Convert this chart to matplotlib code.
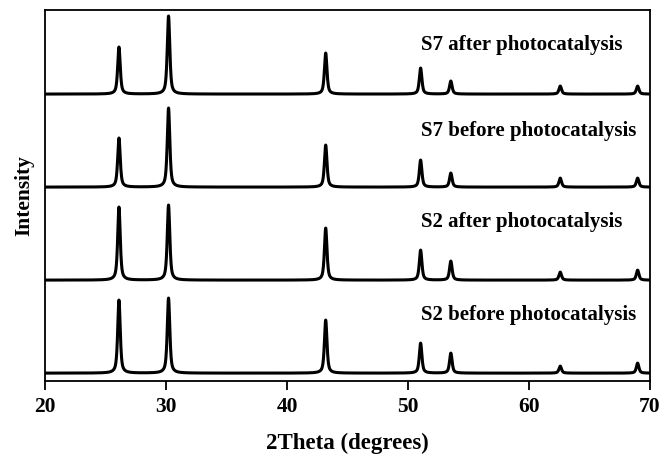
import numpy as np
import matplotlib
matplotlib.use("Agg")
import matplotlib.pyplot as plt

# peak positions (2theta, degrees)
peak_pos = [26.1, 30.2, 43.2, 51.05, 53.55, 62.6, 69.0]

# peak heights (a.u.) per sample
labels = ["S2 before photocatalysis", "S2 after photocatalysis",
          "S7 before photocatalysis", "S7 after photocatalysis"]
heights_s2_before = [73, 75, 53, 30, 20, 7, 10]
heights_s2_after = [73, 75, 52, 30, 19, 8, 10]
heights_s7_before = [49, 79, 42, 27, 14, 9, 9]
heights_s7_after = [47, 78, 41, 26, 13, 8, 8]
offsets = [0, 93, 186, 279]
label_dy = [58, 58, 56, 49]

plt.rcParams['font.family'] = ['Liberation Serif', 'DejaVu Serif']
plt.rcParams['font.weight'] = 'bold'


def pattern(x, heights, fwhm=0.25, eta=0.65):
    y = np.zeros_like(x)
    for p, h in zip(peak_pos, heights):
        g = np.exp(-4 * np.log(2) * ((x - p) / fwhm) ** 2)
        l = 1.0 / (1.0 + 4 * ((x - p) / fwhm) ** 2)
        y += h * (eta * l + (1 - eta) * g)
    return y


x = np.linspace(20, 70, 5001)
fig = plt.figure(figsize=(6.65, 4.57), dpi=100)
ax = fig.add_axes([0.068, 0.166, 0.909, 0.812])

all_heights = [heights_s2_before, heights_s2_after, heights_s7_before, heights_s7_after]
for lab, h, off, dy in zip(labels, all_heights, offsets, label_dy):
    ax.plot(x, pattern(x, h) + off, color='black', lw=2.2)
    ax.text(51.1, off + dy, lab, fontsize=15, fontweight='bold', va='center', ha='left')

ax.set_xlim(20, 70)
ax.set_ylim(-8, 363)
ax.set_xticks([20, 30, 40, 50, 60, 70])
ax.set_yticks([])
ax.tick_params(axis='x', direction='out', length=6.5, width=1.3, labelsize=15.5, pad=5)
for lab in ax.get_xticklabels():
    lab.set_fontweight('bold')
for s in ax.spines.values():
    s.set_linewidth(1.3)
ax.set_xlabel("2Theta (degrees)", fontsize=16.5, fontweight='bold', labelpad=11)
ax.set_ylabel("Intensity", fontsize=15.5, fontweight='bold', labelpad=8)

fig.savefig("out.png", dpi=100)
